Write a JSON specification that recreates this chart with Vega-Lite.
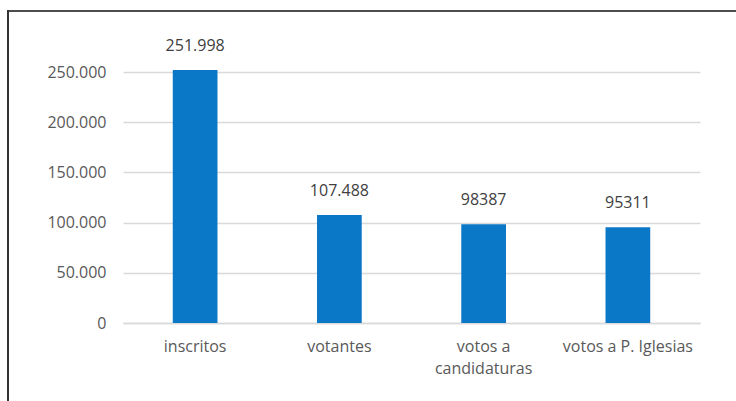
{
  "$schema": "https://vega.github.io/schema/vega-lite/v6.json",
  "width": 577,
  "height": 253,
  "autosize": {"type": "none"},
  "padding": {"left": 123, "top": 70, "right": 36, "bottom": 78},
  "background": "white",
  "config": {"view": {"stroke": null}, "font": "Open Sans"},
  "data": {
    "values": [
      {"cat": "inscritos", "value": 251998, "label": "251.998"},
      {"cat": "votantes", "value": 107488, "label": "107.488"},
      {"cat": "votos a candidaturas", "value": 98387, "label": "98387"},
      {"cat": "votos a P. Iglesias", "value": 95311, "label": "95311"}
    ]
  },
  "layer": [
    {
      "mark": {"type": "bar", "color": "#0B77C7"},
      "encoding": {
        "x": {
          "field": "cat",
          "type": "nominal",
          "sort": null,
          "scale": {"paddingInner": 0.69, "paddingOuter": 0.345},
          "axis": {
            "title": null,
            "labelAngle": 0,
            "labelFontSize": 16,
            "labelColor": "#595959",
            "labelPadding": 15,
            "labelLineHeight": 22,
            "labelLimit": 300,
            "ticks": false,
            "domain": true,
            "domainColor": "#D9D9D9",
            "domainWidth": 1.5,
            "labelExpr": "datum.value == 'votos a candidaturas' ? ['votos a', 'candidaturas'] : datum.value"
          }
        },
        "y": {
          "field": "value",
          "type": "quantitative",
          "scale": {"domain": [0, 252000], "nice": false},
          "axis": {
            "title": null,
            "values": [0, 50000, 100000, 150000, 200000, 250000],
            "labelExpr": "replace(format(datum.value, ','), ',', '.')",
            "labelFontSize": 16,
            "labelColor": "#595959",
            "labelPadding": 17,
            "ticks": false,
            "domain": false,
            "grid": true,
            "gridColor": "#D9D9D9",
            "gridWidth": 1.5
          }
        }
      }
    },
    {
      "mark": {"type": "text", "dy": -24, "baseline": "middle", "fontSize": 16, "color": "#404040"},
      "encoding": {
        "x": {"field": "cat", "type": "nominal", "sort": null},
        "y": {"field": "value", "type": "quantitative"},
        "text": {"field": "label"}
      }
    },
    {
      "data": {"values": [{}]},
      "mark": {"type": "rule", "color": "#4d4d4d", "strokeWidth": 2, "clip": false},
      "encoding": {"x": {"value": -116}, "x2": {"value": 613}, "y": {"value": -59}}
    },
    {
      "data": {"values": [{}]},
      "mark": {"type": "rule", "color": "#333333", "strokeWidth": 2, "clip": false},
      "encoding": {"x": {"value": -115}, "y": {"value": -60}, "y2": {"value": 331}}
    }
  ]
}
